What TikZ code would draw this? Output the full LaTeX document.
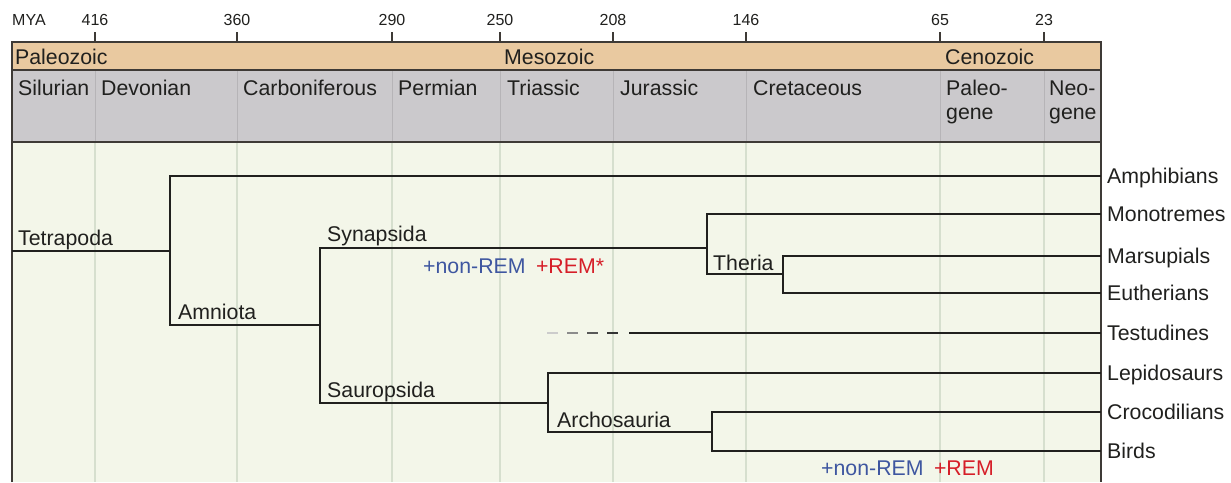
\documentclass[tikz,border=0pt]{standalone}
\usepackage{fontspec}
\setmainfont{Liberation Sans}
\usepackage{xcolor}
\usepackage{tikz}
\usetikzlibrary{positioning,calc}

\definecolor{eraband}{RGB}{233,201,160}
\definecolor{perband}{RGB}{203,201,204}
\definecolor{bodybg}{RGB}{243,246,233}
\definecolor{gridln}{RGB}{214,223,206}
\definecolor{perln}{RGB}{182,180,183}
\definecolor{framec}{RGB}{62,58,54}
\definecolor{inkc}{RGB}{32,32,30}
\definecolor{remblue}{RGB}{62,86,160}
\definecolor{remred}{RGB}{214,30,40}

\begin{document}
\begin{tikzpicture}[
  x=1pt, y=-1pt,
  font=\fontsize{21.3}{24}\selectfont,
  mya/.style={font=\fontsize{16}{18}\selectfont, anchor=base, inner sep=0pt, text=inkc},
  lbl/.style={anchor=base west, inner sep=0pt, text=inkc},
  perlbl/.style={lbl, align=left},
  leaf/.style={anchor=west, inner xsep=6pt, inner ysep=0pt,
    text height=15pt, text depth=0pt, text=inkc},
  br/.style={draw=inkc, line width=2.2pt},
  frm/.style={draw=framec, line width=2pt},
  nrem/.style={lbl, text=remblue},
  rem/.style={inner sep=0pt, text=remred}
]
\useasboundingbox (0,0) rectangle (1231,482);

\fill[eraband] (12,42) rectangle (1101,70);
\fill[perband] (12,70) rectangle (1101,142);
\fill[bodybg] (12,142) rectangle (1101,482);

\foreach \x/\m in {95/416, 237/360, 392/290, 500/250, 613/208, 746/146, 940/65, 1044/23} {
  \draw[perln, line width=1pt] (\x,70) -- (\x,142);
  \draw[gridln, line width=1.2pt] (\x,142) -- (\x,482);
  \draw[framec, line width=1.5pt] (\x,32) -- (\x,42);
  \node[mya] (t\m) at (\x,25) {\m};
}
\node[mya, anchor=base west] (myalbl) at (12,25) {MYA};

\draw[frm] (12,482) -- (12,42) -- (1101,42) -- (1101,482);
\draw[frm] (12,70) -- (1101,70);
\draw[frm] (12,142) -- (1101,142);

\node[lbl] (paleoz) at (15,64) {Paleozoic};
\node[lbl] (mesoz) at (504,64) {Mesozoic};
\node[lbl] (cenoz) at (945,64) {Cenozoic};

\node[perlbl] (silur) at (18,95) {Silurian};
\node[perlbl] (devon) at (101,95) {Devonian};
\node[perlbl] (carbon) at (243,95) {Carboniferous};
\node[perlbl] (perm) at (398,95) {Permian};
\node[perlbl] (trias) at (507,95) {Triassic};
\node[perlbl] (juras) at (620,95) {Jurassic};
\node[perlbl] (creta) at (753,95) {Cretaceous};
\node[perlbl] (paleog) at (946,119) {Paleo-\\gene};
\node[perlbl] (neog) at (1049,119) {Neo-\\gene};

\node[leaf] (amph) at (1101,176) {Amphibians};
\node[leaf] (mono) at (1101,214) {Monotremes};
\node[leaf] (mars) at (1101,256) {Marsupials};
\node[leaf] (euth) at (1101,293) {Eutherians};
\node[leaf] (testu) at (1101,333) {Testudines};
\node[leaf] (lepi) at (1101,373) {Lepidosaurs};
\node[leaf] (croc) at (1101,412) {Crocodilians};
\node[leaf] (bird) at (1101,451) {Birds};

\coordinate (root) at (12,251);
\coordinate (tetra) at (170,251);
\coordinate (amnio) at (320,325);
\coordinate (syn) at (707,248);
\coordinate (ther) at (783,274);
\coordinate (saur) at (548,403);
\coordinate (arch) at (712,432);
\coordinate (testend) at (629,333);

\draw[br] (root) -- (tetra);
\draw[br] (amph.west) -| (tetra) |- (amnio);
\draw[br] (syn) -| (amnio) |- (saur);
\draw[br] (mono.west) -| (syn) |- (ther);
\draw[br] (mars.west) -| (ther) |- (euth.west);
\draw[br] (lepi.west) -| (saur) |- (arch);
\draw[br] (croc.west) -| (arch) |- (bird.west);
\draw[br] (testu.west) -- (testend);
\foreach \i/\c in {0/20, 1/45, 2/65, 3/80}
  \draw[black!\c, line width=2.2pt] ($(testend)+(-82+20*\i,0)$) -- ++(11,0);

\node[lbl] (tetlbl) at (18,245) {Tetrapoda};
\node[lbl] (amnlbl) at (178,319) {Amniota};
\node[lbl] (synlbl) at (327,241) {Synapsida};
\node[lbl] (saulbl) at (327,397) {Sauropsida};
\node[lbl] (arclbl) at (557,427) {Archosauria};
\node[lbl] (therlbl) at (713,270) {Theria};

\node[nrem] (synnrem) at (423,273) {+non-REM};
\node[rem, right=10pt of synnrem] (synrem) {+REM*};
\node[nrem] (birdnrem) at (821,475) {+non-REM};
\node[rem, right=10pt of birdnrem] (birdrem) {+REM};
\end{tikzpicture}
\end{document}
